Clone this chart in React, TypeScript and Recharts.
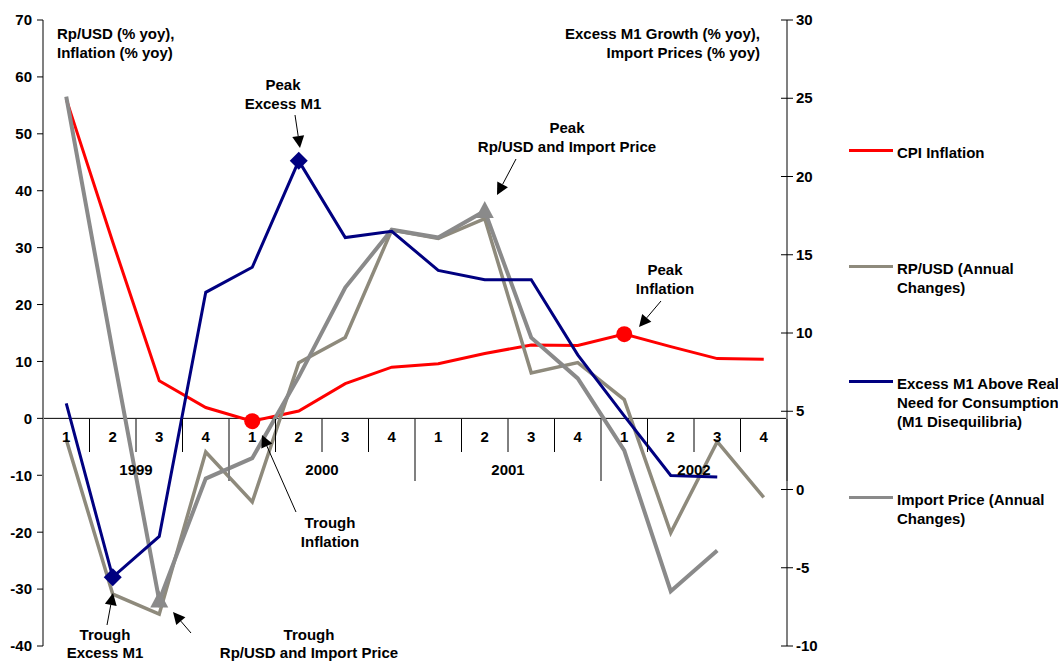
import { Legend, Line, LineChart, ReferenceLine, XAxis, YAxis } from "recharts";

// quarterly observations, 1999 Q1 .. 2002 Q4
const years = ["1999", "2000", "2001", "2002"];
const quarters = ["1", "2", "3", "4"];

// left axis (% yoy)
const cpiInflation = [56.1, 31.0, 6.6, 1.9, -0.5, 1.3, 6.1, 9.0, 9.6, 11.4, 12.9, 12.8, 14.8, 12.6, 10.5, 10.4];
const rpUsd = [-3.7, -30.9, -34.4, -5.9, -14.7, 9.8, 14.2, 33.1, 31.6, 35.1, 8.0, 9.8, 3.3, -20.1, -4.1, -13.9];

// right axis (% yoy)
const excessM1 = [5.5, -5.6, -3.0, 12.6, 14.2, 21.0, 16.1, 16.5, 14.0, 13.4, 13.4, 8.6, 4.7, 0.9, 0.8, null];
const importPrice = [25.1, 8.8, -7.1, 0.7, 2.0, 7.2, 12.9, 16.6, 16.1, 17.8, 9.7, 7.1, 2.5, -6.5, -3.9, null];

// highlighted turning points (index into the quarters)
const cpiMarkers = [4, 12];
const m1Markers = [1, 5];
const importMarkers = [2, 9];

const leftTicks = [-40, -30, -20, -10, 0, 10, 20, 30, 40, 50, 60, 70];
const rightTicks = [-10, -5, 0, 5, 10, 15, 20, 25, 30];

const periods = years.flatMap((y) => quarters.map((q) => `${y} Q${q}`));

const data = periods.map((period, i) => ({
	period,
	cpi: cpiInflation[i],
	rp: rpUsd[i],
	m1: excessM1[i],
	imp: importPrice[i],
}));

const FONT = "'Liberation Sans', Arial, sans-serif";
const FS = 15;
const RED = "#ff0000";
const OLIVE = "#8e8a7c";
const NAVY = "#000080";
const GREY = "#8a8a8a";

// plot geometry: x 43..787, y 20..646
const ZERO_Y = 419;
const BAND = 744 / 16;

function QuarterTick(props: any) {
	const { x, index } = props;
	const q = quarters[index % 4];
	const yearStart = index % 4 === 0;
	const last = index === periods.length - 1;
	return (
		<g>
			<line
				x1={x - BAND / 2}
				x2={x - BAND / 2}
				y1={ZERO_Y}
				y2={ZERO_Y + (yearStart ? 62 : 33)}
				stroke={yearStart ? "#808080" : "#000"}
				strokeWidth={yearStart ? 2 : 1}
			/>
			{last ? (
				<line x1={x + BAND / 2} x2={x + BAND / 2} y1={ZERO_Y} y2={ZERO_Y + 62} stroke="#555" strokeWidth={2} />
			) : null}
			<text x={x} y={ZERO_Y + 23} textAnchor="middle" fontFamily={FONT} fontWeight="bold" fontSize={FS} fill="#000">
				{q}
			</text>
			{index % 4 === 1 ? (
				<text x={x + BAND / 2} y={ZERO_Y + 56} textAnchor="middle" fontFamily={FONT} fontWeight="bold" fontSize={FS} fill="#000">
					{years[Math.floor(index / 4)]}
				</text>
			) : null}
		</g>
	);
}

function RightTick(props: any) {
	const { x, y, payload } = props;
	return (
		<g>
			<line x1={x - 14} x2={x - 2} y1={y} y2={y} stroke="#000" />
			<text x={x + 1} y={y + 5} fontFamily={FONT} fontWeight="bold" fontSize={FS} fill="#000">
				{payload.value}
			</text>
		</g>
	);
}

const cpiDot = (p: any) =>
	cpiMarkers.includes(p.index) ? (
		<circle key={p.index} cx={p.cx} cy={p.cy} r={8} fill={RED} />
	) : (
		<g key={p.index} />
	);

const m1Dot = (p: any) =>
	m1Markers.includes(p.index) ? (
		<polygon
			key={p.index}
			points={`${p.cx},${p.cy - 9} ${p.cx + 9},${p.cy} ${p.cx},${p.cy + 9} ${p.cx - 9},${p.cy}`}
			fill={NAVY}
		/>
	) : (
		<g key={p.index} />
	);

const importDot = (p: any) =>
	importMarkers.includes(p.index) ? (
		<polygon
			key={p.index}
			points={`${p.cx},${p.cy - 10} ${p.cx + 9},${p.cy + 7} ${p.cx - 9},${p.cy + 7}`}
			fill={GREY}
		/>
	) : (
		<g key={p.index} />
	);

const legendItems = [
	{ key: "cpi", label: "CPI Inflation", color: RED },
	{ key: "rp", label: "RP/USD (Annual\nChanges)", color: OLIVE },
	{ key: "m1", label: "Excess M1 Above Real\nNeed for Consumption\n(M1 Disequilibria)", color: NAVY },
	{ key: "imp", label: "Import Price (Annual\nChanges)", color: GREY },
];

function LegendBox() {
	return (
		<div style={{ fontFamily: FONT, fontWeight: "bold", fontSize: FS, color: "#000" }}>
			{legendItems.map((it) => (
				<div key={it.key} style={{ position: "relative", height: 115.7 }}>
					<div
						style={{
							position: "absolute",
							left: 0,
							top: 5,
							width: 44,
							height: 3,
							background: it.color,
						}}
					/>
					<div style={{ position: "absolute", left: 48, top: -1, whiteSpace: "pre", lineHeight: "19px" }}>{it.label}</div>
				</div>
			))}
		</div>
	);
}

function Arrow({ x1, y1, x2, y2 }: { x1: number; y1: number; x2: number; y2: number }) {
	const a = Math.atan2(y2 - y1, x2 - x1);
	const len = 12;
	const w = 6;
	const bx = x2 - len * Math.cos(a);
	const by = y2 - len * Math.sin(a);
	const px = -Math.sin(a) * w;
	const py = Math.cos(a) * w;
	return (
		<g>
			<line x1={x1} y1={y1} x2={bx} y2={by} stroke="#000" strokeWidth={1} />
			<polygon points={`${x2},${y2} ${bx + px},${by + py} ${bx - px},${by - py}`} fill="#000" />
		</g>
	);
}

function Note({ x, y, lines, anchor = "middle", gap = 19 }: { x: number; y: number; lines: string[]; anchor?: string; gap?: number }) {
	return (
		<text x={x} y={y} textAnchor={anchor as any} fontFamily={FONT} fontWeight="bold" fontSize={FS} fill="#000">
			{lines.map((l, i) => (
				<tspan key={i} x={x} dy={i === 0 ? 0 : gap}>
					{l}
				</tspan>
			))}
		</text>
	);
}

export default function App() {
	return (
		<div style={{ position: "absolute", left: 0, top: 0, width: 1058, height: 661, background: "#fff" }}>
			<LineChart width={1058} height={661} data={data} margin={{ top: 20, right: 231, left: 0, bottom: 14 }}>
				<XAxis
					dataKey="period"
					interval={0}
					axisLine={false}
					tickLine={false}
					height={1}
					padding={{ left: BAND / 2, right: BAND / 2 }}
					tick={<QuarterTick />}
				/>
				<YAxis
					yAxisId="left"
					domain={[-40, 70]}
					ticks={leftTicks}
					width={43}
					tickMargin={5}
					axisLine={{ stroke: "#808080", strokeWidth: 2 }}
					tickLine={{ stroke: "#000" }}
					tick={{ fill: "#000", fontFamily: FONT, fontWeight: "bold", fontSize: FS }}
				/>
				<YAxis
					yAxisId="right"
					orientation="right"
					domain={[-10, 30]}
					ticks={rightTicks}
					width={40}
					tickLine={false}
					axisLine={{ stroke: "#808080", strokeWidth: 2 }}
					tick={<RightTick />}
				/>
				<ReferenceLine yAxisId="left" y={0} stroke="#000" strokeWidth={1} />
				<Legend
					layout="vertical"
					align="center"
					verticalAlign="middle"
					wrapperStyle={{ left: 849, top: 144, right: "auto", bottom: "auto", width: 215 }}
					content={() => <LegendBox />}
				/>
				<Line yAxisId="left" dataKey="cpi" name="CPI Inflation" stroke={RED} strokeWidth={3} dot={cpiDot} isAnimationActive={false} />
				<Line yAxisId="left" dataKey="rp" name="RP/USD (Annual Changes)" stroke={OLIVE} strokeWidth={3.5} dot={false} isAnimationActive={false} />
				<Line yAxisId="right" dataKey="imp" name="Import Price (Annual Changes)" stroke={GREY} strokeWidth={4} dot={importDot} isAnimationActive={false} />
				<Line yAxisId="right" dataKey="m1" name="Excess M1 Above Real Need for Consumption (M1 Disequilibria)" stroke={NAVY} strokeWidth={3} dot={m1Dot} isAnimationActive={false} />
			</LineChart>
			<svg width={1058} height={661} style={{ position: "absolute", left: 0, top: 0, pointerEvents: "none" }}>
				<Note x={57} y={39} lines={["Rp/USD (% yoy),", "Inflation (% yoy)"]} anchor="start" />
				<Note x={760} y={39} lines={["Excess  M1 Growth (% yoy),", "Import Prices (% yoy)"]} anchor="end" />
				<Note x={283} y={90} lines={["Peak", "Excess M1"]} />
				<Arrow x1={295} y1={115} x2={300} y2={148} />
				<Note x={567} y={133} lines={["Peak", "Rp/USD and Import Price"]} />
				<Arrow x1={516} y1={159} x2={497} y2={195} />
				<Note x={665} y={275} lines={["Peak", "Inflation"]} />
				<Arrow x1={661} y1={301} x2={639} y2={327} />
				<Note x={330} y={528} lines={["Trough", "Inflation"]} />
				<Arrow x1={296} y1={512} x2={262} y2={435} />
				<Note x={105} y={640} lines={["Trough", "Excess M1"]} gap={18} />
				<Arrow x1={107} y1={625} x2={113} y2={593} />
				<Note x={309} y={640} lines={["Trough", "Rp/USD and Import Price"]} gap={18} />
				<Arrow x1={191} y1={633} x2={173} y2={612} />
			</svg>
		</div>
	);
}
